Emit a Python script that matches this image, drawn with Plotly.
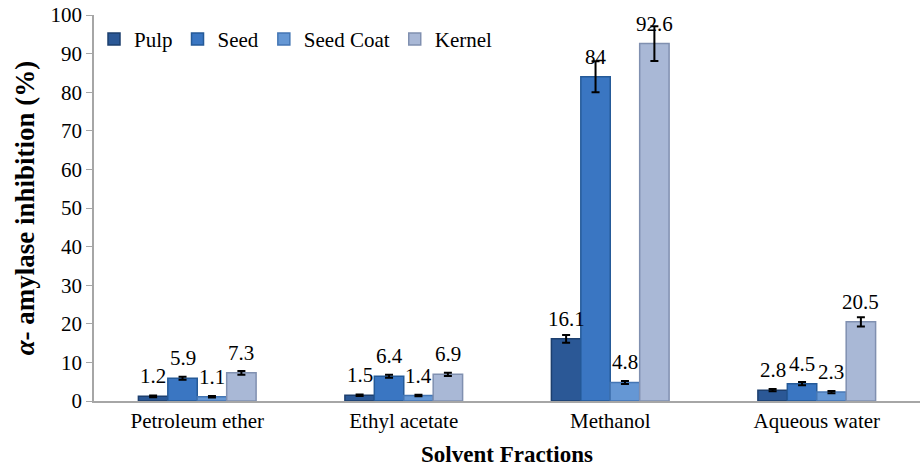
import plotly.graph_objects as go

# Solvent fractions and α-amylase inhibition (%) per plant part
fractions = ["Petroleum ether", "Ethyl acetate", "Methanol", "Aqueous water"]
series_names = ["Pulp", "Seed", "Seed Coat", "Kernel"]

pulp = [1.2, 1.5, 16.1, 2.8]
seed = [5.9, 6.4, 84.0, 4.5]
seed_coat = [1.1, 1.4, 4.8, 2.3]
kernel = [7.3, 6.9, 92.6, 20.5]

pulp_err = [0.2, 0.2, 1.0, 0.3]
seed_err = [0.4, 0.4, 4.0, 0.4]
seed_coat_err = [0.2, 0.2, 0.4, 0.3]
kernel_err = [0.5, 0.4, 4.5, 1.2]

y_ticks = [0, 10, 20, 30, 40, 50, 60, 70, 80, 90, 100]

fill_colors = ["#2b5896", "#3a76c2", "#6597d4", "#a9b8d6"]
edge_colors = ["#1d3f6e", "#255a98", "#4476b4", "#8090b0"]

values = [pulp, seed, seed_coat, kernel]
errors = [pulp_err, seed_err, seed_coat_err, kernel_err]

SERIF = "Liberation Serif"
BAR_GAP = 0.43
n_series = len(series_names)
bar_w = (1 - BAR_GAP) / n_series

fig = go.Figure()
for name, vals, errs, fc, ec in zip(series_names, values, errors, fill_colors, edge_colors):
    fig.add_trace(go.Bar(
        name=name,
        x=fractions,
        y=vals,
        marker=dict(color=fc, line=dict(color=ec, width=1.5)),
        error_y=dict(type="data", array=errs, visible=True,
                     color="black", thickness=2, width=4),
    ))

# Value labels centred above each bar
annotations = []
for j, vals in enumerate(values):
    offset = (j - (n_series - 1) / 2) * bar_w
    for i, v in enumerate(vals):
        annotations.append(dict(
            x=i + offset, y=v, xref="x", yref="y",
            text=f"{v:g}", showarrow=False, yshift=20,
            font=dict(family=SERIF, size=21, color="black"),
            yanchor="middle", xanchor="center",
        ))

fig.update_layout(
    width=922, height=467,
    margin=dict(l=94, r=2, t=15, b=66),
    paper_bgcolor="white", plot_bgcolor="white",
    barmode="group", bargap=BAR_GAP, bargroupgap=0,
    font=dict(family=SERIF, size=21, color="black"),
    annotations=annotations,
    legend=dict(
        orientation="h", x=0.0, y=0.99, xanchor="left", yanchor="top",
        font=dict(family=SERIF, size=21, color="black"),
        bgcolor="rgba(0,0,0,0)", itemwidth=30, tracegroupgap=0,
    ),
    xaxis=dict(
        showline=True, linecolor="#a6a6a6", linewidth=1.5,
        ticks="", showgrid=False,
        tickfont=dict(family=SERIF, size=21, color="black"),
        title=dict(text="<b>Solvent Fractions</b>", standoff=14,
                   font=dict(family=SERIF, size=23, color="black")),
    ),
    yaxis=dict(
        range=[0, 100], tickvals=y_ticks,
        showline=True, linecolor="#a6a6a6", linewidth=1.5,
        ticks="outside", ticklen=6, tickcolor="#a6a6a6",
        showgrid=False, zeroline=False,
        tickfont=dict(family=SERIF, size=21, color="black"),
        title=dict(text="<b><i>α</i>- amylase inhibition (%)</b>", standoff=8,
                   font=dict(family=SERIF, size=27, color="black")),
    ),
)

fig.write_html("out.html")
